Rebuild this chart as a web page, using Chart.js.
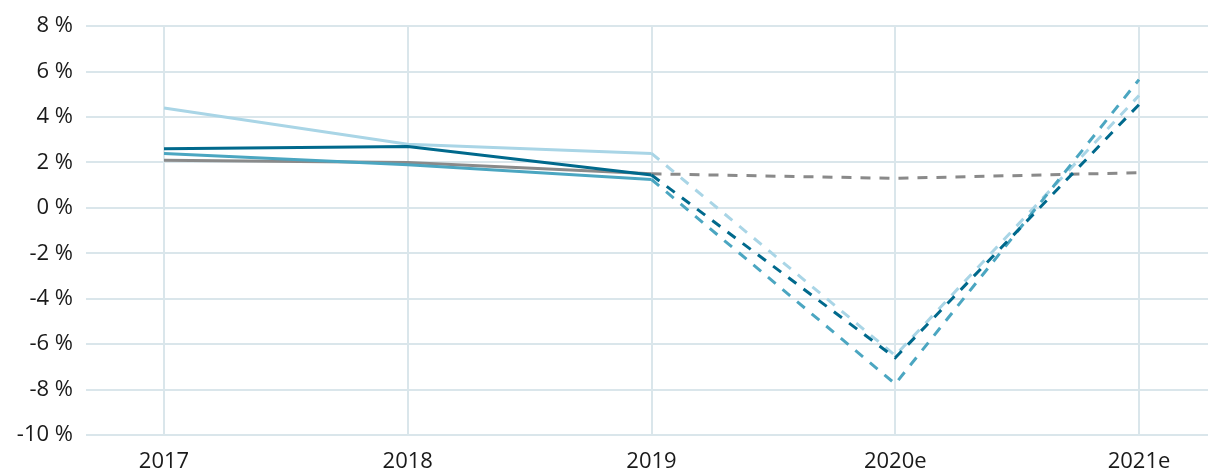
<!DOCTYPE html>
<html lang="en">
<head>
    <meta charset="UTF-8">
    <title>Growth forecast</title>
    <script src="https://cdn.jsdelivr.net/npm/chart.js"></script>
    <style>
        html, body {
            margin: 0;
            padding: 0;
            background: #ffffff;
        }
        .chart-box {
            width: 1208px;
            height: 475px;
        }
    </style>
</head>
<body>
    <div class="chart-box">
        <canvas id="growthChart"></canvas>
    </div>

    <script>
        // years (last two are estimates)
        const years = ["2017", "2018", "2019", "2020e", "2021e"];
        const yTicks = [-10, -8, -6, -4, -2, 0, 2, 4, 6, 8];

        // series values in %
        const darkBlue = [2.6, 2.7, 1.45, -6.6, 4.55];
        const midTeal = [2.4, 1.9, 1.25, -7.75, 5.65];
        const lightBlue = [4.4, 2.8, 2.4, -6.5, 4.95];
        const grey = [2.1, 2.0, 1.5, 1.3, 1.55];

        const dashFrom = 2; // forecast starts after 2019

        function toPoints(values) {
            return values.map((v, i) => ({ x: i, y: v }));
        }

        function series(values, color) {
            return {
                data: toPoints(values),
                borderColor: color,
                backgroundColor: color,
                borderWidth: 3,
                pointRadius: 0,
                tension: 0,
                fill: false,
                segment: {
                    borderDash: ctx => ctx.p0DataIndex >= dashFrom ? [10, 9] : undefined
                }
            };
        }

        const gridColor = "#dae6eb";
        const tickFont = { family: "'Open Sans', sans-serif", size: 22 };

        new Chart(document.getElementById("growthChart").getContext("2d"), {
            type: "line",
            data: {
                datasets: [
                    series(darkBlue, "#00698c"),
                    series(midTeal, "#4ba6c1"),
                    series(lightBlue, "#a9d5e6"),
                    series(grey, "#8a8a8a")
                ]
            },
            options: {
                responsive: true,
                maintainAspectRatio: false,
                animation: false,
                layout: { padding: { top: 20, right: 0, bottom: 0, left: 0 } },
                plugins: {
                    legend: { display: false },
                    tooltip: { enabled: false }
                },
                scales: {
                    x: {
                        type: "linear",
                        min: -0.32,
                        max: 4.283,
                        afterBuildTicks: axis => {
                            axis.ticks = years.map((_, i) => ({ value: i }));
                        },
                        afterFit: axis => { axis.height = 40; },
                        border: { display: false },
                        grid: { color: gridColor, lineWidth: 2, drawTicks: false },
                        ticks: {
                            color: "#1a1a1a",
                            font: tickFont,
                            padding: 14,
                            maxRotation: 0,
                            callback: v => years[v]
                        }
                    },
                    y: {
                        min: yTicks[0],
                        max: yTicks[yTicks.length - 1],
                        afterBuildTicks: axis => {
                            axis.ticks = yTicks.map(v => ({ value: v }));
                        },
                        afterFit: axis => { axis.width = 86; },
                        border: { display: false },
                        grid: { color: gridColor, lineWidth: 2, drawTicks: false },
                        ticks: {
                            color: "#1a1a1a",
                            font: tickFont,
                            padding: 13,
                            callback: v => v + " %"
                        }
                    }
                }
            }
        });
    </script>
</body>
</html>
